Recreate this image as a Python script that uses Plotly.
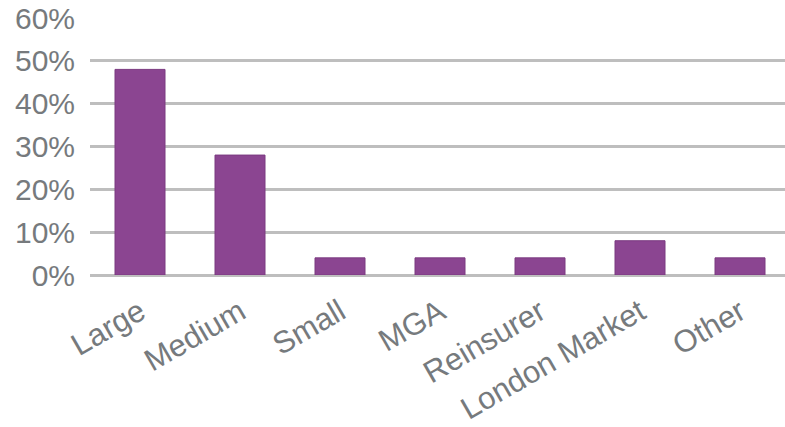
import plotly.graph_objects as go

# Share of responses by organisation type
categories = ["Large", "Medium", "Small", "MGA", "Reinsurer", "London Market", "Other"]
shares = [0.48, 0.28, 0.04, 0.04, 0.04, 0.08, 0.04]
y_ticks = [0, 0.1, 0.2, 0.3, 0.4, 0.5, 0.6]
y_tick_labels = ["0%", "10%", "20%", "30%", "40%", "50%", "60%"]

bar_color = "#8B4591"
text_color = "#767A7D"
grid_color = "#BEBEBE"

fig = go.Figure(
    go.Bar(
        x=categories,
        y=shares,
        width=0.5,
        marker=dict(color=bar_color, line=dict(color="#7A3A80", width=1)),
    )
)

fig.update_layout(
    width=785,
    height=427,
    margin=dict(l=90, r=0, t=18, b=152),
    paper_bgcolor="white",
    plot_bgcolor="white",
    font=dict(family="Liberation Sans, Arial, sans-serif", color=text_color),
    showlegend=False,
    bargap=0.5,
)

fig.update_xaxes(
    range=[-0.5, 6.45],
    tickangle=-30,
    tickfont=dict(size=31, color=text_color),
    showgrid=False,
    showline=False,
    ticks="",
    ticklabelstandoff=12,
)

fig.update_yaxes(
    range=[0, 0.6],
    tickvals=y_ticks,
    ticktext=y_tick_labels,
    tickfont=dict(size=30, color=text_color),
    showgrid=True,
    gridcolor=grid_color,
    gridwidth=3,
    zeroline=True,
    zerolinecolor=grid_color,
    zerolinewidth=3,
    ticks="",
    ticklabelstandoff=14,
)

fig.write_html("out.html")
